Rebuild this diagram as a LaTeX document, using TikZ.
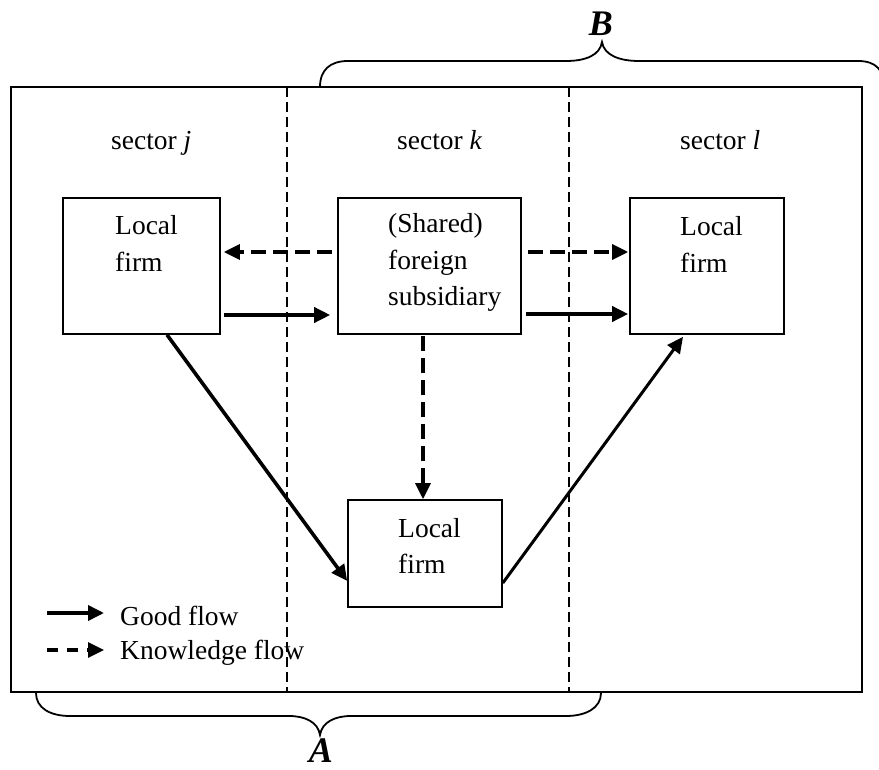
\documentclass[tikz,border=0pt]{standalone}
\usepackage{fontspec}
\setmainfont{Liberation Serif}
\usetikzlibrary{arrows.meta,calc}
\begin{document}
\begin{tikzpicture}[x=1pt,y=-1pt,
  firmbox/.style={draw, line width=1.6pt, inner sep=0pt},
  txt/.style={font=\fontsize{27.5}{37}\selectfont, inner sep=0pt, anchor=base west},
  lbl/.style={font=\fontsize{36}{40}\selectfont\bfseries\itshape, inner sep=0pt},
  tip/.style={-{Triangle[length=16pt,width=15pt]}},
  good/.style={line width=3.6pt, tip},
  know/.style={line width=3.2pt, dash pattern=on 15pt off 7pt, tip},
  sectorline/.style={line width=2.8pt, dash pattern=on 10pt off 5pt},
  brace/.style={line width=1.8pt}]
\useasboundingbox (0,0) rectangle (879,770);

% outer frame
\node[draw, line width=1.8pt, inner sep=0pt, minimum width=851pt, minimum height=605pt] (frame) at (436.5,389.5) {};

% sector separators
\coordinate (s1t) at (287,87); \coordinate (s1b) at (287,692);
\coordinate (s2t) at (569,87); \coordinate (s2b) at (569,692);
\draw[sectorline] (s1t) -- (s1b);
\draw[sectorline] (s2t) -- (s2b);

% sector labels
\node[txt] (secj) at (111,150) {sector \textit{j}};
\node[txt] (seck) at (397,150) {sector \textit{k}};
\node[txt] (secl) at (680,150) {sector \textit{l}};

% boxes
\node[firmbox, minimum width=157pt, minimum height=136pt] (L) at (141.5,266) {};
\node[firmbox, minimum width=183pt, minimum height=136pt] (M) at (429.5,266) {};
\node[firmbox, minimum width=154pt, minimum height=136pt] (R) at (707,266) {};
\node[firmbox, minimum width=154pt, minimum height=107pt] (B) at (425,553.5) {};

% box texts
\node[txt] (L1) at (115,235) {Local};
\node[txt] (L2) at (115,272) {firm};
\node[txt] (M1) at (388,233) {(Shared)};
\node[txt] (M2) at (388,270) {foreign};
\node[txt] (M3) at (388,306) {subsidiary};
\node[txt] (R1) at (680,236) {Local};
\node[txt] (R2) at (680,273) {firm};
\node[txt] (B1) at (398,537) {Local};
\node[txt] (B2) at (398,573) {firm};

% flows
\draw[know] ($(M.west)+(-5,-14)$) -- ($(L.east)+(3,-14)$);
\draw[good] ($(L.east)+(3,49)$) -- ($(M.west)+(-7,49)$);
\draw[know] ($(M.east)+(6,-14)$) -- ($(R.west)+(-1,-14)$);
\draw[good] ($(M.east)+(4,48)$) -- ($(R.west)+(-1,48)$);
\draw[know] ($(M.south)+(-6.5,1)$) -- ($(B.north)+(-2,0)$);
\draw[good] ($(L.south)+(25.5,0)$) -- ($(B.west)+(0,27.5)$);
\draw[line width=3pt, tip] ($(B.east)+(0,29.5)$) -- ($(R.south)+(-24,2)$);

% legend
\coordinate (g1) at (47,613); \coordinate (g2) at (104,613);
\coordinate (k1) at (47,650); \coordinate (k2) at (104,650);
\draw[good] (g1) -- (g2);
\draw[line width=3.2pt, dash pattern=on 11pt off 9pt, tip] (k1) -- (k2);
\node[txt] (lg1) at (120,625) {Good flow};
\node[txt] (lg2) at (120,659) {Knowledge flow};

% braces
\draw[brace] (320,87) .. controls (320,70) and (330,61) .. (348,61) -- (566,61)
  .. controls (586,61) and (600,55) .. (602,42)
  .. controls (604,55) and (619,61) .. (639,61) -- (858,61)
  .. controls (876,61) and (884,70) .. (884,87);
\node[lbl] (labB) at (601,24) {B};
\draw[brace] (36,693) .. controls (36,708) and (50,716) .. (70,716) -- (289,716)
  .. controls (305,716) and (318,722) .. (320,735)
  .. controls (322,722) and (335,716) .. (351,716) -- (566,716)
  .. controls (586,716) and (601,708) .. (601,693);
\node[lbl] (labA) at (321,751) {A};
\end{tikzpicture}
\end{document}
